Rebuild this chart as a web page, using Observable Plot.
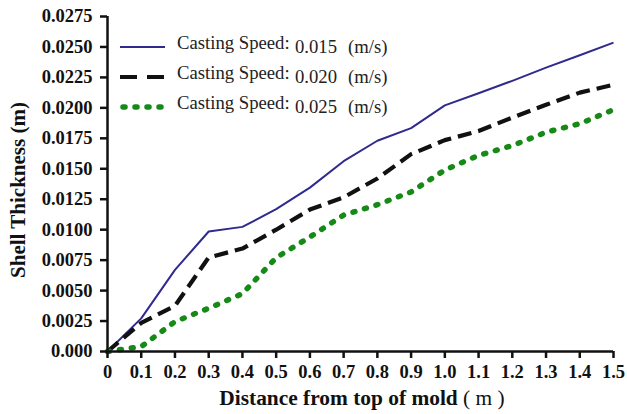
<!DOCTYPE html>
<html>
<head>
<meta charset="utf-8">
<script src="https://cdn.jsdelivr.net/npm/d3@7"></script>
<script src="https://cdn.jsdelivr.net/npm/@observablehq/plot@0.6"></script>
<style>
  html, body { margin: 0; padding: 0; background: #fff; }
  #chart svg { display: block; }
</style>
</head>
<body>
<div id="chart"></div>
<script>
const distance = [0, 0.1, 0.2, 0.3, 0.4, 0.5, 0.6, 0.7, 0.8, 0.9, 1.0, 1.1, 1.2, 1.3, 1.4, 1.5];
const speed015 = [0, 0.00272, 0.00670, 0.00985, 0.01023, 0.01168, 0.01345, 0.01562, 0.01730, 0.01834, 0.02020, 0.02120, 0.02222, 0.02330, 0.02432, 0.02536];
const speed020 = [0, 0.00235, 0.00375, 0.00772, 0.00845, 0.01000, 0.01165, 0.01265, 0.01420, 0.01620, 0.01735, 0.01810, 0.01920, 0.02025, 0.02125, 0.02190];
const speed025 = [0, 0.00040, 0.00245, 0.00355, 0.00475, 0.00770, 0.00940, 0.01120, 0.01205, 0.01310, 0.01490, 0.01610, 0.01690, 0.01800, 0.01870, 0.01985];
const seriesNames = ["0.015", "0.020", "0.025"];
const xTicks = [0, 0.1, 0.2, 0.3, 0.4, 0.5, 0.6, 0.7, 0.8, 0.9, 1.0, 1.1, 1.2, 1.3, 1.4, 1.5];
const xTickLabels = ["0", "0.1", "0.2", "0.3", "0.4", "0.5", "0.6", "0.7", "0.8", "0.9", "1.0", "1.1", "1.2", "1.3", "1.4", "1.5"];
const yTicks = [0, 0.0025, 0.005, 0.0075, 0.01, 0.0125, 0.015, 0.0175, 0.02, 0.0225, 0.025, 0.0275];
const yTickLabels = ["0.000", "0.0025", "0.0050", "0.0075", "0.0100", "0.0125", "0.0150", "0.0175", "0.0200", "0.0225", "0.0250", "0.0275"];
const xTitle = "Distance from top of mold";
const xUnit = " ( m )";
const yTitle = "Shell Thickness (m)";
const legendPrefix = "Casting Speed:";
const legendUnit = "(m/s)";

const styles = [
  {stroke: "#2f2a8e", strokeWidth: 2, dash: null, cap: "butt"},
  {stroke: "#111111", strokeWidth: 4.2, dash: "14,7", cap: "butt"},
  {stroke: "#168a16", strokeWidth: 5.5, dash: "2,10", cap: "round"}
];
const allSeries = [speed015, speed020, speed025];
const rows = [];
allSeries.forEach((vals, s) => vals.forEach((v, i) => rows.push({x: distance[i], y: v, s})));

const serif = "'Liberation Serif', 'Times New Roman', serif";

const plot = Plot.plot({
  width: 627,
  height: 414,
  marginLeft: 107,
  marginRight: 14,
  marginTop: 16,
  marginBottom: 63,
  style: {fontFamily: serif, fontSize: "18.5px", fontWeight: "bold", color: "#111", background: "#fff"},
  x: {domain: [0, 1.5], ticks: xTicks, label: null},
  y: {domain: [0, 0.0275], ticks: yTicks, label: null},
  marks: [
    ...styles.map((st, s) => Plot.line(rows.filter(d => d.s === s), {
      x: "x", y: "y",
      stroke: st.stroke, strokeWidth: st.strokeWidth,
      strokeDasharray: st.dash, strokeLinecap: st.cap, strokeLinejoin: "round"
    })),
    Plot.axisX({ticks: xTicks, tickFormat: (d) => xTickLabels[xTicks.indexOf(d)], tickSize: 7, tickPadding: 6, strokeWidth: 2.5, label: null, fontSize: 18.5, fontWeight: "bold"}),
    Plot.axisY({ticks: yTicks, tickFormat: (d) => yTickLabels[yTicks.indexOf(d)], tickSize: 7, tickPadding: 8, strokeWidth: 2.5, label: null, fontSize: 18.5, fontWeight: "bold"}),
    Plot.ruleY([0], {stroke: "#111", strokeWidth: 2.5}),
    Plot.ruleX([0], {stroke: "#111", strokeWidth: 2.5})
  ]
});

document.getElementById("chart").appendChild(plot);

const svg = d3.select(plot);
// Axis titles
const xt = svg.append("text")
  .attr("x", 362).attr("y", 405)
  .attr("text-anchor", "middle")
  .attr("font-family", serif).attr("font-size", 21.4).attr("fill", "#111");
xt.append("tspan").attr("font-weight", "bold").text(xTitle);
xt.append("tspan").attr("font-weight", "normal").text(xUnit);

svg.append("text")
  .attr("transform", "translate(25,190) rotate(-90)")
  .attr("text-anchor", "middle")
  .attr("font-family", serif).attr("font-size", 21).attr("font-weight", "bold").attr("fill", "#111")
  .text(yTitle);

// Legend
const lg = svg.append("g").attr("text-anchor", "start");
styles.forEach((st, s) => {
  const cy = 47 + s * 30;
  lg.append("line")
    .attr("x1", s === 2 ? 123 : 120).attr("x2", s === 2 ? 163 : 165)
    .attr("y1", cy).attr("y2", cy)
    .attr("stroke", st.stroke).attr("stroke-width", st.strokeWidth === 2 ? 2.2 : st.strokeWidth)
    .attr("stroke-dasharray", s === 1 ? "17,10" : st.dash)
    .attr("stroke-linecap", st.cap);
  lg.append("text")
    .attr("x", 177).attr("y", cy + 2)
    .attr("text-anchor", "start")
    .attr("font-family", serif).attr("font-size", 18.7).attr("font-weight", "normal").attr("fill", "#222")
    .text(legendPrefix);
  lg.append("text")
    .attr("x", 295).attr("y", cy + 6)
    .attr("text-anchor", "start")
    .attr("font-family", serif).attr("font-size", 18.7).attr("font-weight", "normal").attr("fill", "#222")
    .text(seriesNames[s]);
  lg.append("text")
    .attr("x", 348).attr("y", cy + 6)
    .attr("text-anchor", "start")
    .attr("font-family", serif).attr("font-size", 18.7).attr("font-weight", "normal").attr("fill", "#222")
    .text(legendUnit);
});
</script>
</body>
</html>
